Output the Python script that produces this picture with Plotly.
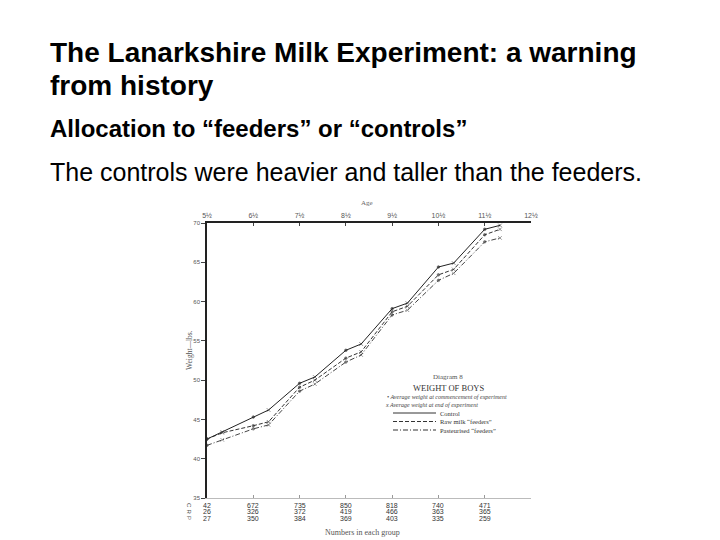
import plotly.graph_objects as go

# ages: each group weighed at commencement (x.5) and at end (~4 months later)
ages = [5.5, 5.83, 6.5, 6.83, 7.5, 7.83, 8.5, 8.83, 9.5, 9.83, 10.5, 10.83, 11.5, 11.83]
control = [42.5, 43.4, 45.3, 46.2, 49.6, 50.4, 53.8, 54.6, 59.1, 59.8, 64.4, 64.9, 69.2, 69.7]
raw_milk = [42.5, 43.3, 44.2, 44.7, 49.1, 50.0, 52.8, 53.6, 58.7, 59.4, 63.4, 64.1, 68.5, 69.2]
pasteurised = [41.7, 42.4, 43.8, 44.3, 48.6, 49.5, 52.3, 53.2, 58.3, 58.9, 62.7, 63.6, 67.6, 68.1]

group_ages = [5.5, 6.5, 7.5, 8.5, 9.5, 10.5, 11.5]
age_labels = ["5½", "6½", "7½", "8½", "9½", "10½", "11½", "12½"]
n_control = [42, 672, 735, 850, 818, 740, 471]
n_raw = [26, 326, 372, 419, 466, 363, 365]
n_past = [27, 350, 384, 369, 403, 335, 259]

W, H = 720, 540
L, R, T, B = 207, 531, 223, 498


def px(x):
    return (x - L) / (R - L)


def py(y):
    return (B - y) / (B - T)


serif = "Liberation Serif"
sans = "Liberation Sans"

markers = ["circle", "x-thin"] * 7
sizes = [2.5, 3.5] * 7

fig = go.Figure()
for name, vals, col, dash in [("Control", control, "#222222", "solid"),
                              ("Raw milk “feeders”", raw_milk, "#333333", "4px,2px"),
                              ("Pasteurised “feeders”", pasteurised, "#444444", "5px,2px,1px,2px")]:
    fig.add_trace(go.Scatter(x=ages, y=vals, mode="lines+markers", name=name,
                             line=dict(color=col, width=1, dash=dash),
                             marker=dict(symbol=markers, size=sizes, color=col,
                                         line=dict(width=0.8, color=col))))

annotations = [
    dict(text="<b>The Lanarkshire Milk Experiment: a warning</b>", x=px(48), y=py(52),
         font=dict(size=28, family=sans, color="black")),
    dict(text="<b>from history</b>", x=px(48), y=py(86),
         font=dict(size=28, family=sans, color="black")),
    dict(text="<b>Allocation to “feeders” or “controls”</b>", x=px(48), y=py(128),
         font=dict(size=24, family=sans, color="black")),
    dict(text="The controls were heavier and taller than the feeders.", x=px(48), y=py(172),
         font=dict(size=25, family=sans, color="black")),
]
for a in annotations:
    a.update(xref="paper", yref="paper", xanchor="left", yanchor="middle", showarrow=False)

diagram = []
diagram.append(dict(text="Age", x=px(367), y=py(203), font=dict(size=7, family=serif, color="#666")))
diagram.append(dict(text="Weight—lbs.", x=px(189), y=py(350), textangle=-90,
                    font=dict(size=7.5, family=serif, color="#555")))
diagram.append(dict(text="Numbers in each group", x=px(362), y=py(532),
                    font=dict(size=8, family=serif, color="#555")))
for lab, yy in zip(["C", "R", "P"], [505, 511.5, 518]):
    diagram.append(dict(text=lab, x=px(189), y=py(yy), textangle=90,
                        font=dict(size=6, family=sans, color="#555")))
for row, yy in zip([n_control, n_raw, n_past], [505, 511.5, 518]):
    for a, n in zip(group_ages, row):
        diagram.append(dict(text=str(n), x=a, xref="x", y=py(yy),
                            font=dict(size=7, family=sans, color="#333333")))

# key
diagram.append(dict(text="Diagram 8", x=px(448), y=py(377), font=dict(size=7, family=serif, color="#555")))
diagram.append(dict(text="WEIGHT OF BOYS", x=px(448), y=py(388), font=dict(size=8.5, family=serif, color="#333")))
diagram.append(dict(text="<i>• Average weight at commencement of experiment</i>", x=px(385), y=py(397),
                    xanchor="left", font=dict(size=6, family=serif, color="#444")))
diagram.append(dict(text="<i>x Average weight at end of experiment</i>", x=px(383), y=py(405),
                    xanchor="left", font=dict(size=6, family=serif, color="#444")))
shapes = []
for name, yy, dash in zip(["Control", "Raw milk “feeders”", "Pasteurised “feeders”"],
                          [413, 421.5, 430], ["solid", "4px,2px", "5px,2px,1px,2px"]):
    diagram.append(dict(text=name, x=px(438), y=py(yy), xanchor="left",
                        font=dict(size=6.5, family=serif, color="#333")))
    shapes.append(dict(type="line", xref="paper", yref="paper", x0=px(393), x1=px(436),
                       y0=py(yy), y1=py(yy), line=dict(color="#333", width=1, dash=dash)))

for a in diagram:
    a.setdefault("xref", "paper")
    a.setdefault("xanchor", "center")
    a.update(yref="paper", yanchor="middle", showarrow=False)

fig.update_layout(
    width=W, height=H,
    margin=dict(l=L, r=W - R, t=T, b=H - B),
    paper_bgcolor="white", plot_bgcolor="white",
    showlegend=False,
    annotations=annotations + diagram,
    shapes=shapes,
    xaxis=dict(range=[5.5, 12.5], side="bottom", tickvals=group_ages, showticklabels=False,
               ticks="inside", ticklen=3, tickcolor="#999", showline=True, linecolor="#bbb",
               linewidth=1, showgrid=False, zeroline=False),
    xaxis2=dict(range=[5.5, 12.5], overlaying="x", side="top", matches="x",
                tickvals=group_ages + [12.5], ticktext=age_labels,
                ticks="inside", ticklen=3, tickcolor="#444", showline=True, linecolor="#222",
                linewidth=1.5, showgrid=False, zeroline=False,
                tickfont=dict(size=7, family=sans, color="#555")),
    yaxis=dict(range=[35, 70], tickvals=[35, 40, 45, 50, 55, 60, 65, 70], ticks="outside",
               ticklen=4, tickcolor="#444", showline=True, linecolor="#222", linewidth=1.5,
               showgrid=False, zeroline=False, tickfont=dict(size=6, family=sans, color="#555")),
)
# invisible trace so the top axis is drawn
fig.add_trace(go.Scatter(x=[5.5], y=[35], xaxis="x2", mode="markers", opacity=0,
                         hoverinfo="skip", showlegend=False))

fig.write_html("out.html", config={"displayModeBar": False},
               post_script="document.body.style.margin='0';")
